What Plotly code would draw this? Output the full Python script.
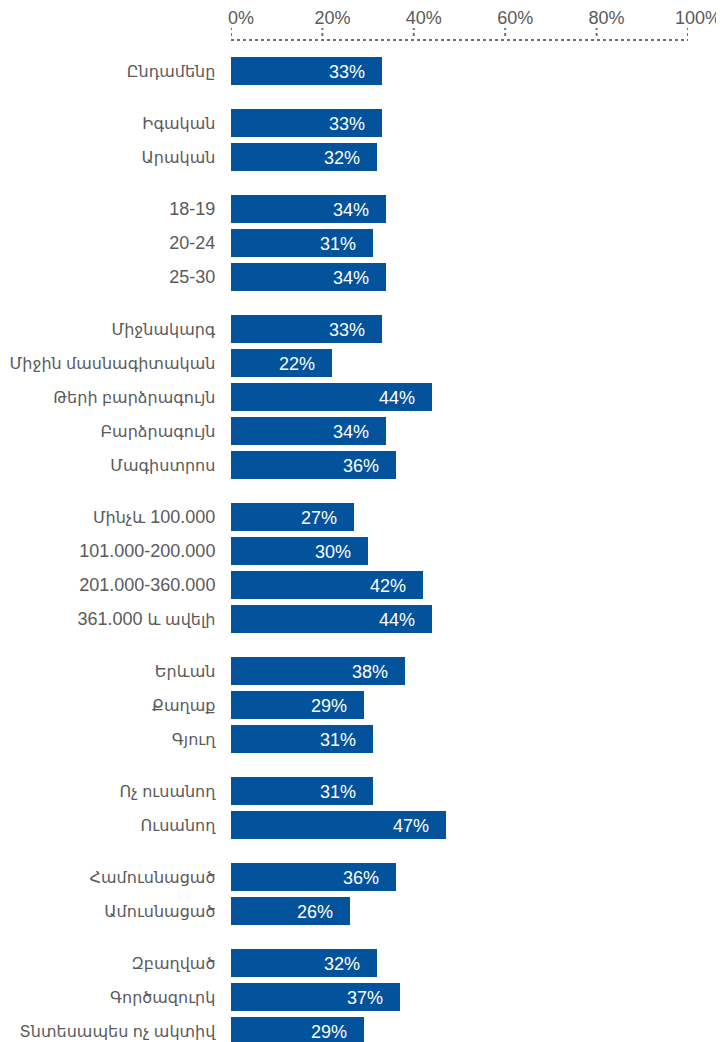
import re
import plotly.graph_objects as go

# Data (groups of categories, in display order)
groups = [
    ["Ընդամենը"],
    ["Իգական", "Արական"],
    ["18-19", "20-24", "25-30"],
    ["Միջնակարգ", "Միջին մասնագիտական", "Թերի բարձրագույն", "Բարձրագույն", "Մագիստրոս"],
    ["Մինչև 100.000", "101.000-200.000", "201.000-360.000", "361.000 և ավելի"],
    ["Երևան", "Քաղաք", "Գյուղ"],
    ["Ոչ ուսանող", "Ուսանող"],
    ["Համուսնացած", "Ամուսնացած"],
    ["Զբաղված", "Գործազուրկ", "Տնտեսապես ոչ ակտիվ"],
]
values = [33, 33, 32, 34, 31, 34, 33, 22, 44, 34, 36, 27, 30, 42, 44, 38, 29, 31, 31, 47, 36, 26, 32, 37, 29]
tick_values = [0, 20, 40, 60, 80, 100]

BLUE = "#03529C"
GREY = "#5a5a5a"
FONT = "Liberation Sans, Arial, DejaVu Sans, sans-serif"

# page has an 8px body margin; compensate so the plot lands where the reference has it
W, H = 724, 1042
TOP, LEFT, RIGHT, BOTTOM = 32, 223, 44, 8
ROW_PX = 34.0
GAP_EXTRA = 18.0 / ROW_PX

# positions in row units
cats, ypos = [], []
p = 0.0
for gi, g in enumerate(groups):
    if gi > 0:
        p += GAP_EXTRA
    for c in g:
        cats.append(c)
        ypos.append(p)
        p += 1.0

ARM = re.compile(r"([\u0530-\u058F]+(?:[ \u0530-\u058F]*[\u0530-\u058F])?)")


def shrink_armenian(s):
    return ARM.sub(r'<span style="font-size:16px">\1</span>', s)


tick_text = [shrink_armenian(c) for c in cats]

plot_h = H - TOP - BOTTOM
first_off = 31.0 / ROW_PX
y_range = [-first_off, plot_h / ROW_PX - first_off]

fig = go.Figure()
fig.add_trace(go.Bar(
    x=values, y=ypos, orientation="h",
    marker=dict(color=BLUE, line=dict(width=0)),
    width=0.815, hoverinfo="skip", cliponaxis=False,
))

for v, yp in zip(values, ypos):
    fig.add_annotation(x=v, y=yp, xref="x", yref="y", text=f"{v}%",
                       showarrow=False, xanchor="right", yanchor="middle",
                       xshift=-15, yshift=-1,
                       font=dict(color="white", size=18, family=FONT))

# dotted axis line and tick marks
fig.add_shape(type="line", xref="x", yref="paper", x0=0, x1=100, y0=1, y1=1,
              line=dict(color="#707070", width=2, dash="dot"))
for t in tick_values:
    fig.add_shape(type="line", xref="x", yref="paper", x0=t, x1=t,
                  y0=1 + 4.0 / plot_h, y1=1 + 12.0 / plot_h,
                  line=dict(color="#707070", width=2, dash="dot"))

fig.update_layout(
    width=W, height=H,
    margin=dict(l=LEFT, r=RIGHT, t=TOP, b=BOTTOM, pad=0, autoexpand=False),
    paper_bgcolor="white", plot_bgcolor="white",
    showlegend=False,
    bargap=0,
    xaxis=dict(range=[0, 100], side="top", tickvals=tick_values,
               ticktext=[f"{t}%" for t in tick_values],
               showgrid=False, zeroline=False, showline=False,
               ticks="outside", ticklen=8, tickcolor="rgba(0,0,0,0)",
               ticklabelshift=10, automargin=False,
               tickfont=dict(color=GREY, size=18, family=FONT),
               fixedrange=True),
    yaxis=dict(range=[y_range[1], y_range[0]], tickvals=ypos, ticktext=tick_text,
               showgrid=False, zeroline=False, showline=False,
               ticks="outside", ticklen=11, tickcolor="rgba(0,0,0,0)",
               automargin=False,
               tickfont=dict(color=GREY, size=18, family=FONT),
               fixedrange=True),
)

fig.write_html("out.html", config={"displayModeBar": False})
